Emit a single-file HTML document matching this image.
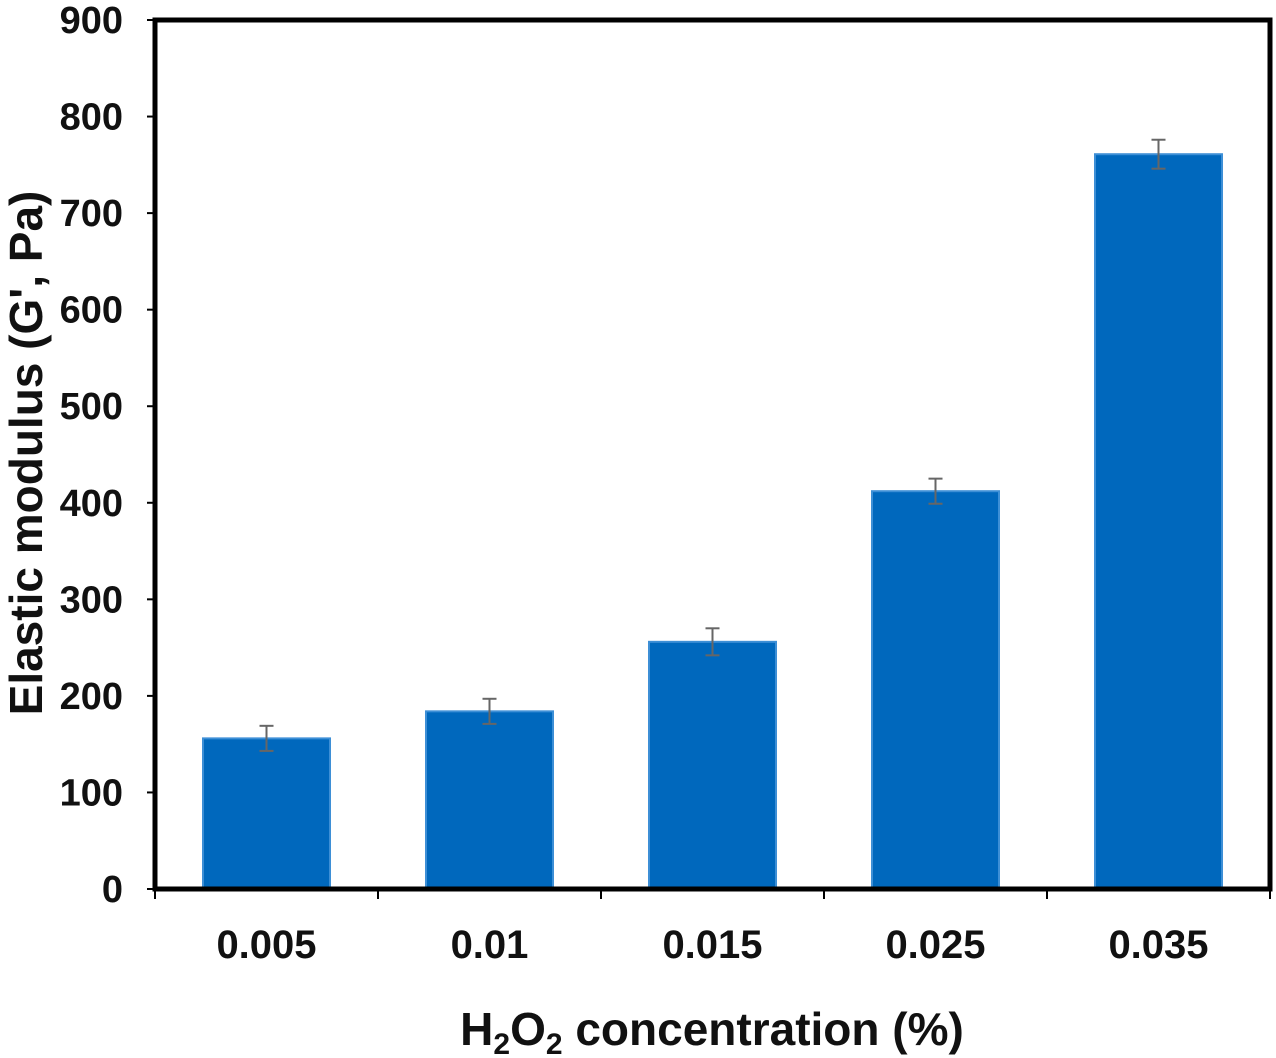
<!DOCTYPE html>
<html><head><meta charset="utf-8"><style>
html,body{margin:0;padding:0;background:#fff;}
svg{display:block;font-family:"Liberation Sans",Arial,sans-serif;font-weight:bold;}
</style></head><body>
<svg id="chart" width="1276" height="1058"></svg>
<script>
const categories=["0.005","0.01","0.015","0.025","0.035"];
const values=[156,184,256,412,761];
const errors=[13,13,14,13,15];
const yTicks=[0,100,200,300,400,500,600,700,800,900];
const L=155,R=1270,T=20,B=889,yMax=900;
const svg=document.getElementById('chart');
const NS='http://www.w3.org/2000/svg';
function y(v){return B-(v/yMax)*(B-T);}
const band=(R-L)/categories.length;
function xc(i){return L+band*(i+0.5);}
function mk(tag,attrs,parent){const e=document.createElementNS(NS,tag);for(const k in attrs)e.setAttribute(k,attrs[k]);(parent||svg).appendChild(e);return e;}
categories.forEach((c,i)=>{
  const bw=127,x=xc(i)-bw/2;
  const r=mk('rect',{x:x,y:y(values[i]),width:bw,height:B-y(values[i]),fill:'#0068bd',stroke:'#3d8fd6','stroke-width':2});
  
  
  const g=mk('g',{stroke:'#666','stroke-width':2});
  
  
  const cx=xc(i),hi=y(values[i]+errors[i]),lo=y(values[i]-errors[i]);
  mk('line',{x1:cx,x2:cx,y1:hi,y2:lo},g);
  mk('line',{x1:cx-7,x2:cx+7,y1:hi,y2:hi},g);
  mk('line',{x1:cx-7,x2:cx+7,y1:lo,y2:lo},g);
  const t=mk('text',{x:cx,y:958,'text-anchor':'middle','font-size':40,fill:'#111'});
  t.textContent=c;
  
  
});
yTicks.forEach(v=>{
  mk('line',{x1:L-8,x2:L,y1:y(v),y2:y(v),stroke:'#000','stroke-width':2});
  const t=mk('text',{x:L-32,y:y(v)+13,'text-anchor':'end','font-size':38,fill:'#111'});
  t.textContent=v;
  
  
});
for(let i=0;i<=categories.length;i++){mk('line',{x1:L+band*i,x2:L+band*i,y1:B,y2:B+10,stroke:'#000','stroke-width':2});}
const f=mk('rect',{x:L,y:T,width:R-L,height:B-T,fill:'none',stroke:'#000','stroke-width':5});


</script>
<svg width="1276" height="1058" style="position:absolute;left:0;top:0;font-family:'Liberation Sans',Arial,sans-serif;font-weight:bold">
<text x="42" y="453" transform="rotate(-90 42 453)" text-anchor="middle" font-size="46" fill="#111">Elastic modulus (G', Pa)</text>
<text x="712" y="1045" text-anchor="middle" font-size="46" fill="#111">H<tspan font-size="30" dy="9">2</tspan><tspan dy="-9">O</tspan><tspan font-size="30" dy="9">2</tspan><tspan dy="-9"> concentration (%)</tspan></text>
</svg>
</body></html>
